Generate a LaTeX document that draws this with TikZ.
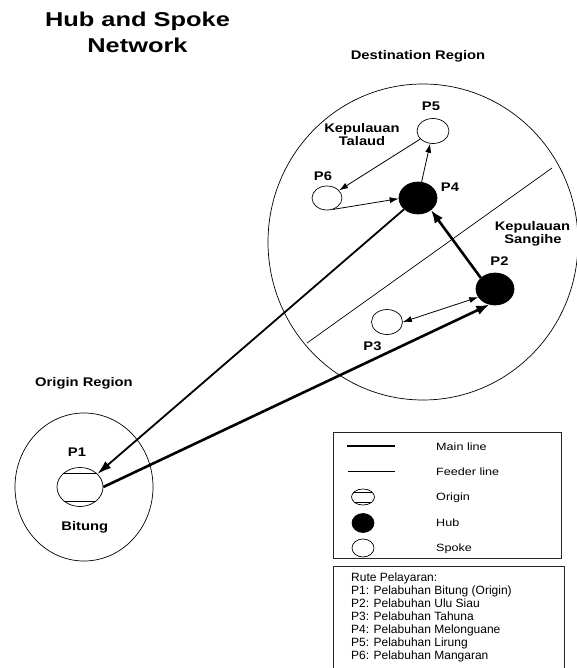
\documentclass[tikz,border=0pt]{standalone}
\usepackage{fontspec}
\setmainfont{Liberation Sans}
\newfontfamily\titlefont[FakeStretch=1.27]{Liberation Sans}
\newfontfamily\labelfont[FakeStretch=1.18]{Liberation Sans}
\newfontfamily\legfont[FakeStretch=1.2]{Liberation Sans}
\usetikzlibrary{shapes.geometric,arrows.meta}
\begin{document}
\begin{tikzpicture}[x=1pt,y=-1pt,
  titlelbl/.style={inner sep=0pt, anchor=base, font=\titlefont\bfseries\fontsize{20}{26}\selectfont},
  lbl/.style={inner sep=0pt, anchor=base, font=\labelfont\bfseries\fontsize{12.5}{13.4}\selectfont},
  leglbl/.style={inner sep=0pt, anchor=base west, font=\legfont\fontsize{10.5}{12}\selectfont},
  routelbl/.style={inner sep=0pt, anchor=base west, font=\fontsize{12}{13}\selectfont},
  region/.style={draw, ellipse, inner sep=0pt, line width=0.7pt},
  spoke/.style={draw, ellipse, inner sep=0pt, line width=0.7pt, fill=white},
  hub/.style={draw, ellipse, inner sep=0pt, line width=0.7pt, fill=black},
  origin/.style={draw, ellipse, inner sep=0pt, line width=0.7pt, fill=white,
    path picture={
      \draw[line width=0.7pt] ([yshift=-#1]path picture bounding box.north west) -- ([yshift=-#1]path picture bounding box.north east);
      \draw[line width=0.7pt] ([yshift=#1]path picture bounding box.south west) -- ([yshift=#1]path picture bounding box.south east);
    }},
  feeder/.style={line width=0.8pt, -{Latex[length=9pt,width=6pt]}},
  feederboth/.style={line width=0.8pt, {Latex[length=9pt,width=6pt]}-{Latex[length=9pt,width=6pt]}},
  mainln/.style={line width=2.6pt, -{Latex[length=13pt,width=10pt]}},
  medln/.style={line width=1.8pt, -{Latex[length=14pt,width=9pt]}},
  legbox/.style={line width=1pt, draw=black!85}
]
\useasboundingbox (0,0) rectangle (577,668);

% title
\node[titlelbl] (t1) at (137.5,27) {Hub and Spoke};
\node[titlelbl] (t2) at (137.5,53) {Network};

% regions
\node[region, minimum width=310pt, minimum height=316pt] (dest) at (423,242) {};
\node[region, minimum width=138pt, minimum height=148pt] (orig) at (84,487) {};
\draw[line width=0.7pt] (307,343) -- (552,168);

\node[lbl] (destlbl) at (418,59.5) {Destination Region};
\node[lbl] (origlbl) at (84,386.7) {Origin Region};
\node[lbl] (tal1) at (362,132.3) {Kepulauan};
\node[lbl] (tal2) at (362,145.7) {Talaud};
\node[lbl] (san1) at (532.5,230) {Kepulauan};
\node[lbl] (san2) at (533,243.3) {Sangihe};

% ports
\node[spoke, minimum width=32pt, minimum height=25pt] (P5) at (433,131) {};
\node[spoke, minimum width=30pt, minimum height=24pt] (P6) at (327,198) {};
\node[hub, minimum width=38pt, minimum height=32pt] (P4) at (418,198) {};
\node[hub, minimum width=38pt, minimum height=32pt] (P2) at (495,289) {};
\node[spoke, minimum width=31pt, minimum height=25pt] (P3) at (387,322) {};
\node[origin=5.5pt, minimum width=46pt, minimum height=39pt] (P1) at (80,487) {};

\node[lbl] (P5l) at (431,110.7) {P5};
\node[lbl] (P6l) at (323,180.7) {P6};
\node[lbl] (P4l) at (450,191.7) {P4};
\node[lbl] (P2l) at (499.5,265) {P2};
\node[lbl] (P3l) at (372.5,350) {P3};
\node[lbl] (P1l) at (77,456.7) {P1};
\node[lbl] (bit) at (84.7,530) {Bitung};

% connectors
\draw[feeder] (P5) -- (P6);
\draw[feeder] (P4) -- (P5);
\draw[feeder] (P6.297) -- (P4.182);
\draw[feederboth] (P3.0) -- (P2.206);
\draw[mainln] (P2.142) -- (P4.317);
\draw[mainln] (P1.0) -- (P2.250);
\draw[medln] (P4.219) -- (P1.37);

% legend 1
\draw[legbox] (333,432) rectangle (561,558);
\coordinate (m1) at (347,446); \coordinate (m2) at (395,446);
\coordinate (f1) at (348,471); \coordinate (f2) at (395,471);
\draw[line width=2.6pt] (m1) -- (m2);
\draw[line width=0.8pt] (f1) -- (f2);
\node[origin=3pt, minimum width=23pt, minimum height=16pt] (lo) at (363,497) {};
\node[hub, minimum width=22pt, minimum height=19pt] (lh) at (363,523) {};
\node[spoke, minimum width=22pt, minimum height=18pt] (ls) at (363,548) {};
\node[leglbl] (l1) at (436,450) {Main line};
\node[leglbl] (l2) at (436,475) {Feeder line};
\node[leglbl] (l3) at (436,500) {Origin};
\node[leglbl] (l4) at (436,526) {Hub};
\node[leglbl] (l5) at (436,551) {Spoke};

% legend 2
\draw[legbox] (333,672) -- (333,566) -- (564,566) -- (564,672);
\node[routelbl] (r0) at (351,581.5) {Rute Pelayaran:};
\node[routelbl] (r1) at (351,594.5) {P1: Pelabuhan Bitung (Origin)};
\node[routelbl] (r2) at (351,607.5) {P2: Pelabuhan Ulu Siau};
\node[routelbl] (r3) at (351,620.5) {P3: Pelabuhan Tahuna};
\node[routelbl] (r4) at (351,633.5) {P4: Pelabuhan Melonguane};
\node[routelbl] (r5) at (351,646.5) {P5: Pelabuhan Lirung};
\node[routelbl] (r6) at (351,659.5) {P6: Pelabuhan Mangaran};
\end{tikzpicture}
\end{document}
